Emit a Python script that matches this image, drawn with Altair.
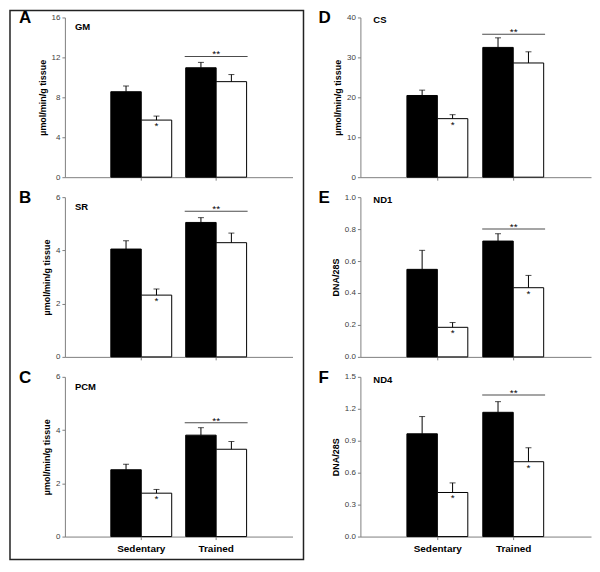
import altair as alt
import pandas as pd

groups = ["Sedentary", "Trained"]
series = ["Filled", "Open"]

panel_letters = ["A", "B", "C", "D", "E", "F"]
panel_names = ["GM", "SR", "PCM", "CS", "ND1", "ND4"]
y_titles = ["µmol/min/g tissue", "µmol/min/g tissue", "µmol/min/g tissue",
            "µmol/min/g tissue", "DNA/28S", "DNA/28S"]
y_max = [16, 6, 6, 40, 1.0, 1.5]
y_ticks = [[0, 4, 8, 12, 16], [0, 2, 4, 6], [0, 2, 4, 6],
           [0, 10, 20, 30, 40], [0.0, 0.2, 0.4, 0.6, 0.8, 1.0],
           [0.0, 0.3, 0.6, 0.9, 1.2, 1.5]]
y_formats = ["d", "d", "d", "d", ".1f", ".1f"]

# values per panel: [Sedentary, Trained]
filled_means = [[8.56, 10.96], [4.05, 5.05], [2.51, 3.81],
                [20.46, 32.5], [0.548, 0.725], [0.965, 1.167]]
filled_err = [[0.57, 0.54], [0.31, 0.18], [0.21, 0.28],
              [1.34, 2.4], [0.119, 0.046], [0.162, 0.10]]
open_means = [[5.72, 9.57], [2.32, 4.29], [1.63, 3.28],
              [14.66, 28.6], [0.185, 0.433], [0.414, 0.703]]
open_err = [[0.40, 0.71], [0.23, 0.36], [0.14, 0.29],
            [0.99, 2.8], [0.030, 0.077], [0.090, 0.131]]
open_star = [[True, False], [True, False], [True, False],
             [True, False], [True, True], [True, True]]
sig_group = "Trained"
sig_level = [12.1, 5.47, 4.28, 35.8, 0.80, 1.329]

FONT = "Liberation Sans"
LEFT_W, RIGHT_W, H = 228, 231, 160


def make_panel(i, width, bottom, right_col, box=False):
    rows = []
    for gi, g in enumerate(groups):
        rows.append(dict(group=g, series="Filled", mean=filled_means[i][gi],
                         upper=filled_means[i][gi] + filled_err[i][gi], star=False))
        rows.append(dict(group=g, series="Open", mean=open_means[i][gi],
                         upper=open_means[i][gi] + open_err[i][gi], star=open_star[i][gi]))
    df = pd.DataFrame(rows)
    sig_df = pd.DataFrame({"group": [sig_group], "sig": [sig_level[i]], "label": ["**"]})
    one = pd.DataFrame({"k": [0]})

    xscale = alt.Scale(domain=groups, paddingInner=0.187, paddingOuter=0.613)
    offscale = alt.Scale(domain=series, paddingInner=0, paddingOuter=0)
    yscale = alt.Scale(domain=[0, y_max[i]], nice=False, zero=True)
    xaxis = alt.Axis(labels=bottom, labelFontWeight="bold", labelFontSize=10,
                     labelColor="black", labelPadding=4, labelAngle=0)
    yaxis = alt.Axis(values=y_ticks[i], format=y_formats[i], title=y_titles[i])

    def X():
        return alt.X("group:N", scale=xscale, axis=xaxis, title=None)

    def XO():
        return alt.XOffset("series:N", scale=offscale)

    def Y(field):
        return alt.Y(field, scale=yscale, axis=yaxis)

    bars = alt.Chart(df).mark_bar(stroke="black", strokeWidth=1).encode(
        x=X(), xOffset=XO(), y=Y("mean:Q"),
        fill=alt.Fill("series:N", scale=alt.Scale(domain=series, range=["black", "white"]), legend=None),
    )
    err = alt.Chart(df).mark_rule(color="black", strokeWidth=1).encode(
        x=X(), xOffset=XO(), y=Y("mean:Q"), y2="upper:Q")
    caps = alt.Chart(df).mark_tick(color="black", thickness=1, size=6).encode(
        x=X(), xOffset=XO(), y=Y("upper:Q"))
    stars = alt.Chart(df).transform_filter("datum.star").mark_text(
        text="*", fontSize=10, font=FONT, baseline="middle", dy=6, color="black").encode(
        x=X(), xOffset=XO(), y=Y("mean:Q"))
    sig_line = alt.Chart(sig_df).mark_tick(color="black", thickness=1, size=63).encode(
        x=X(), y=Y("sig:Q"))
    sig_txt = alt.Chart(sig_df).mark_text(fontSize=10, font=FONT, baseline="alphabetic",
                                          dy=1, color="black").encode(
        x=X(), y=Y("sig:Q"), text="label:N")
    letter = alt.Chart(one).mark_text(
        text=panel_letters[i], fontSize=17, fontWeight="bold", font=FONT,
        align="left", baseline="middle", color="black").encode(
        x=alt.value(-42 if right_col else -46), y=alt.value(1))
    name = alt.Chart(one).mark_text(
        text=panel_names[i], fontSize=9.5, fontWeight="bold", font=FONT,
        align="left", baseline="middle", color="black").encode(
        x=alt.value(13 if right_col else 10), y=alt.value(3 if right_col else 10))

    layers = [bars, err, caps, stars, sig_line, sig_txt, letter, name]
    if box:
        frame = alt.Chart(one).mark_rect(fill="transparent", stroke="#222222", strokeWidth=1.5).encode(
            x=alt.value(-55), x2=alt.value(239), y=alt.value(-7), y2=alt.value(543))
        layers.insert(0, frame)
    return alt.layer(*layers).properties(width=width, height=H)


panels = [
    make_panel(0, LEFT_W, False, False, box=True),
    make_panel(3, RIGHT_W, False, True),
    make_panel(1, LEFT_W, False, False),
    make_panel(4, RIGHT_W, False, True),
    make_panel(2, LEFT_W, True, False),
    make_panel(5, RIGHT_W, True, True),
]

chart = alt.concat(
    *panels, columns=2, spacing=alt.RowColnumber(row=20, column=68), bounds="flush"
).properties(
    padding=0, background="white"
).configure_view(stroke="transparent").configure_axis(
    grid=False, domainColor="#808080", tickColor="#808080", tickSize=3,
    labelFont=FONT, labelFontSize=8, labelColor="#404040", labelPadding=2,
    titleFont=FONT, titleFontSize=9, titleFontWeight="bold", titleColor="black",
    titlePadding=4,
).configure_text(font=FONT)

chart.save("out.html", embed_options={"renderer": "svg", "actions": False})
